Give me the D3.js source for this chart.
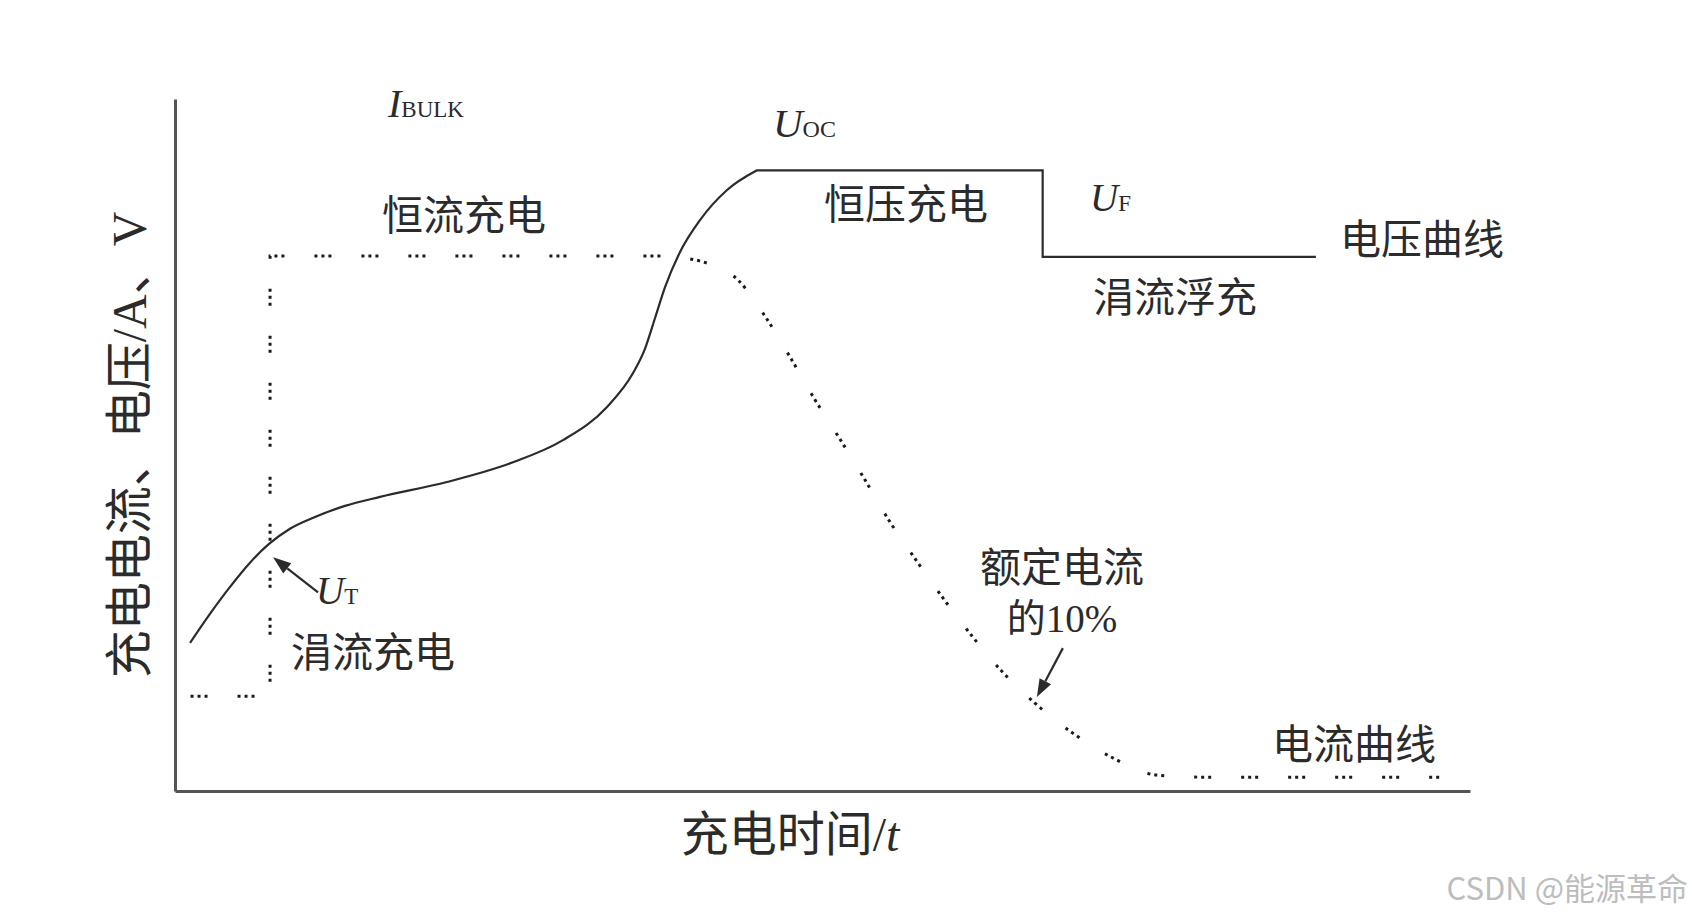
<!DOCTYPE html>
<html>
<head>
<meta charset="utf-8">
<script src="https://cdn.jsdelivr.net/npm/d3@7"></script>
<style>
  html, body { margin: 0; padding: 0; background: #fff; }
  svg { display: block; }
</style>
</head>
<body>
<div id="chart"></div>
<script>

// voltage curve: S-shaped rise (time, volts, arbitrary units 0..100)
let voltageRiseTime  = [1.16, 2.70, 4.25, 5.79, 7.26, 8.88, 10.81, 13.13, 15.83, 21.0, 26.1, 29.96, 33.36, 35.37, 36.29, 37.07, 37.84, 39.0, 40.54, 42.63, 44.94];
let voltageRiseValue = [21.4, 25.6, 29.5, 33.0, 35.7, 37.9, 39.6, 41.2, 42.5, 44.65, 47.5, 50.7, 55.5, 60.4, 63.9, 68.35, 72.8, 77.9, 82.5, 86.85, 89.7];

// voltage plateau (Uoc) then drop to float voltage (UF)
let voltageHoldTime  = [44.94, 67.0, 67.0, 88.1];
let voltageHoldValue = [89.7, 89.7, 77.2, 77.2];

// current: trickle, then step up to I_BULK
let currentStepTime  = [1.2, 7.34, 7.34, 37.5];
let currentStepValue = [13.7, 13.7, 77.3, 77.3];

// current taper during constant voltage, down to the floor
let currentTaperTime  = [37.5, 39.4, 40.5, 43.5, 45.6, 47.5, 49.3, 51.4, 53.3, 55.1, 57.1, 59.3, 61.5, 63.9, 66.4, 69.3, 72.4, 75.8, 79.4, 97.8];
let currentTaperValue = [77.3, 77.0, 76.6, 73.8, 68.5, 62.7, 56.9, 50.7, 44.9, 39.2, 33.7, 27.9, 22.5, 17.2, 12.7, 8.4, 4.8, 2.3, 2.0, 2.0];

// points the arrows point at
let utPoint = [7.34, 35.8];
let tenPercentPoint = [66.4, 12.7];

function chargeChart(width, height, selector) {

  console.log("Running function chargeChart");

  ///////////////////////////////////////////
  //// Dimensions, scales and generators ////
  ///////////////////////////////////////////

  let margin = { top: 99, left: 175, right: 222, bottom: 129 };

  let x = d3.scaleLinear().domain([0, 100]).range([margin.left, width - margin.right]);
  let y = d3.scaleLinear().domain([0, 100]).range([height - margin.bottom, margin.top]);

  let zip = (ts, vs) => ts.map((t, i) => [t, vs[i]]);

  let straight = d3.line().x(d => x(d[0])).y(d => y(d[1]));
  let smooth = d3.line().x(d => x(d[0])).y(d => y(d[1])).curve(d3.curveMonotoneX);

  // join two generated paths into one (second one continues the first)
  let join = (a, b) => a + b.replace(/^M/, "L");

  let cjk = "'Noto Sans CJK SC', 'Noto Sans', sans-serif";
  let serif = "'Liberation Serif', 'DejaVu Serif', serif";
  let ink = "#2b2b2b";

  //////////////////////////
  /// Building the chart ///
  //////////////////////////

  let svg = d3.select(selector)
    .append("svg")
    .attr("width", width)
    .attr("height", height)
    .style("background", "#fff");

  // axes, no ticks
  svg.append("g")
    .attr("transform", `translate(0,${y(0)})`)
    .call(d3.axisBottom(x).tickValues([]).tickSizeOuter(0))
    .select(".domain")
    .attr("stroke", "#555")
    .attr("stroke-width", 3);

  svg.append("g")
    .attr("transform", `translate(${x(0)},0)`)
    .call(d3.axisLeft(y).tickValues([]).tickSizeOuter(0))
    .select(".domain")
    .attr("stroke", "#555")
    .attr("stroke-width", 3);

  // voltage curve (solid)
  svg.append("path")
    .attr("d", join(smooth(zip(voltageRiseTime, voltageRiseValue)), straight(zip(voltageHoldTime, voltageHoldValue))))
    .attr("fill", "none")
    .attr("stroke", ink)
    .attr("stroke-width", 2.2);

  // current curve (groups of three dots)
  svg.append("path")
    .attr("d", join(straight(zip(currentStepTime, currentStepValue)), smooth(zip(currentTaperTime, currentTaperValue))))
    .attr("fill", "none")
    .attr("stroke", "#1a1a1a")
    .attr("stroke-width", 3)
    .attr("stroke-dasharray", "3,4,3,4,3,30");

  // arrows
  function arrow(tail, tip) {
    let dx = tip[0] - tail[0], dy = tip[1] - tail[1];
    let len = Math.sqrt(dx * dx + dy * dy);
    let ux = dx / len, uy = dy / len;
    let headLen = 18, headW = 6.5;
    let bx = tip[0] - ux * headLen, by = tip[1] - uy * headLen;
    svg.append("line")
      .attr("x1", tail[0]).attr("y1", tail[1])
      .attr("x2", bx).attr("y2", by)
      .attr("stroke", ink)
      .attr("stroke-width", 2.2);
    svg.append("path")
      .attr("d", `M${tip[0]},${tip[1]}L${bx - uy * headW},${by + ux * headW}L${bx + uy * headW},${by - ux * headW}Z`)
      .attr("fill", ink);
  }

  let ut = [x(utPoint[0]), y(utPoint[1])];
  arrow([ut[0] + 48, ut[1] + 49], [ut[0] + 3, ut[1] + 14]);

  let tp = [x(tenPercentPoint[0]), y(tenPercentPoint[1])];
  arrow([tp[0] + 28, tp[1] - 55], [tp[0] + 2, tp[1] - 6]);

  ///////////////
  /// Labels ///
  ///////////////

  function cjkLabel(text, cx, baseline, size) {
    svg.append("text")
      .attr("x", cx)
      .attr("y", baseline)
      .attr("text-anchor", "middle")
      .attr("font-family", cjk)
      .attr("font-size", size)
      .attr("fill", ink)
      .text(text);
  }

  function symbol(main, sub, left, baseline, size, subSize) {
    let t = svg.append("text")
      .attr("x", left)
      .attr("y", baseline)
      .attr("font-family", serif)
      .attr("fill", ink);
    t.append("tspan").attr("font-style", "italic").attr("font-size", size).text(main);
    t.append("tspan").attr("font-size", subSize).text(sub);
  }

  symbol("I", "BULK", 388, 117, 40, 23);
  symbol("U", "OC", 773, 137, 41, 24);
  symbol("U", "F", 1090, 211, 39, 23);
  symbol("U", "T", 316, 604, 39, 23);

  cjkLabel("恒流充电", 464, 230, 41);
  cjkLabel("恒压充电", 906, 219, 41);
  cjkLabel("电压曲线", 1422, 254, 41);
  cjkLabel("涓流浮充", 1175, 312, 41);
  cjkLabel("涓流充电", 373, 667, 41);
  cjkLabel("额定电流", 1062, 582, 41);
  cjkLabel("电流曲线", 1354, 759, 41);

  let ten = svg.append("text")
    .attr("x", 1062)
    .attr("y", 632)
    .attr("text-anchor", "middle")
    .attr("font-size", 39)
    .attr("fill", ink);
  ten.append("tspan").attr("font-family", cjk).text("的");
  ten.append("tspan").attr("font-family", serif).text("10%");

  // x axis title
  let xt = svg.append("text")
    .attr("x", 790)
    .attr("y", 851)
    .attr("text-anchor", "middle")
    .attr("font-size", 48)
    .attr("fill", ink);
  xt.append("tspan").attr("font-family", cjk).text("充电时间");
  xt.append("tspan").attr("font-family", serif).text("/");
  xt.append("tspan").attr("font-family", serif).attr("font-style", "italic").text("t");

  // y axis title
  let yt = svg.append("text")
    .attr("transform", "translate(146,445) rotate(-90)")
    .attr("text-anchor", "middle")
    .attr("font-size", 48)
    .attr("fill", ink);
  yt.append("tspan").attr("font-family", cjk).text("充电电流、电压");
  yt.append("tspan").attr("font-family", serif).text("/A");
  yt.append("tspan").attr("font-family", cjk).text("、");
  yt.append("tspan").attr("font-family", serif).text("V");

  // watermark
  svg.append("text")
    .attr("x", 1688)
    .attr("y", 900)
    .attr("text-anchor", "end")
    .attr("font-family", cjk)
    .attr("font-size", 31)
    .attr("fill", "#bdbdbd")
    .text("CSDN @能源革命");
}

chargeChart(1692, 920, "#chart");
</script>
</body>
</html>
